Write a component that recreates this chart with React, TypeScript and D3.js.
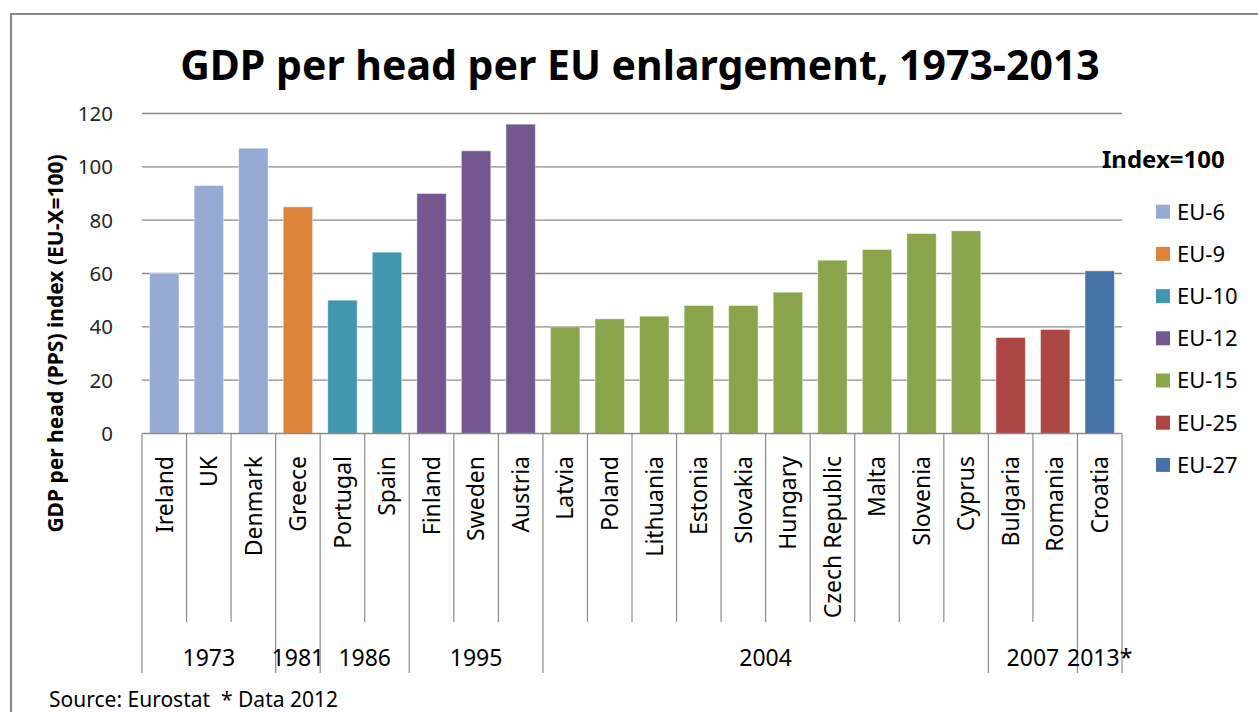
import React from "react";
import * as d3 from "d3";

const countries = ["Ireland","UK","Denmark","Greece","Portugal","Spain","Finland","Sweden","Austria","Latvia","Poland","Lithuania","Estonia","Slovakia","Hungary","Czech Republic","Malta","Slovenia","Cyprus","Bulgaria","Romania","Croatia"];
const values = [60,93,107,85,50,68,90,106,116,40,43,44,48,48,53,65,69,75,76,36,39,61];
const seriesOf = ["EU-6","EU-6","EU-6","EU-9","EU-10","EU-10","EU-12","EU-12","EU-12","EU-15","EU-15","EU-15","EU-15","EU-15","EU-15","EU-15","EU-15","EU-15","EU-15","EU-25","EU-25","EU-27"];
const seriesNames = ["EU-6","EU-9","EU-10","EU-12","EU-15","EU-25","EU-27"];
const seriesColors = ["#95abd3","#dc843a","#4197ad","#72588e","#8aa54c","#ac4744","#4572a7"];
const groupYears = ["1973","1981","1986","1995","2004","2007","2013*"];
const groupSizes = [3,1,2,3,10,2,1];
const yTicks = [0,20,40,60,80,100,120];

const W = 1258, H = 712;
const X0 = 142, X1 = 1122, Y0 = 433.5, Y1 = 113.5;
const FONT = "'Noto Sans', sans-serif";

export default function App() {
  const x = d3.scaleBand<string>().domain(countries).range([X0, X1]).padding(0);
  const y = d3.scaleLinear().domain([0, 120]).range([Y0, Y1]);
  const color = d3.scaleOrdinal<string, string>().domain(seriesNames).range(seriesColors);
  const bw = x.bandwidth();
  const barW = bw * 0.66;

  const bounds: number[] = [0];
  groupSizes.forEach((s) => bounds.push(bounds[bounds.length - 1] + s));
  const boundX = (i: number) => X0 + bounds[i] * bw;

  return (
    <svg width={W} height={H} style={{ position: "absolute", left: 0, top: 0, background: "#fff" }} fontFamily={FONT}>
      <rect x={0} y={0} width={W} height={H} fill="#fff" />
      <path d={`M11,${H + 5} L11,14 L${W + 5},14`} fill="none" stroke="#878787" strokeWidth={2.2} />
      <text x={640} y={80} textAnchor="middle" fontWeight="bold" fontSize={41} fill="#000">
        GDP per head per EU enlargement, 1973-2013
      </text>
      {yTicks.filter((t) => t > 0).map((t) => (
        <line key={t} x1={X0} x2={X1} y1={y(t)} y2={y(t)} stroke="#8a8a8a" strokeWidth={1.3} />
      ))}
      {yTicks.map((t) => (
        <text key={t} x={113} y={y(t)} dy="0.36em" textAnchor="end" fontSize={20.5} fill="#262626">
          {t}
        </text>
      ))}
      <text transform={`translate(55,343.5) rotate(-90)`} textAnchor="middle" dy="0.36em" fontWeight="bold" fontSize={21} fill="#000">
        GDP per head (PPS) index (EU-X=100)
      </text>
      {countries.map((c, i) => (
        <rect
          key={c}
          x={(x(c) as number) + (bw - barW) / 2}
          y={y(values[i])}
          width={barW}
          height={Y0 - y(values[i])}
          fill={color(seriesOf[i])}
          stroke="#ffffff"
          strokeOpacity={0.45}
          strokeWidth={1}
        />
      ))}
      <line x1={X0} x2={X1} y1={Y0} y2={Y0} stroke="#8a8a8a" strokeWidth={1.3} />
      {d3.range(countries.length + 1).map((i) => {
        const isBound = bounds.includes(i);
        return (
          <line key={i} x1={X0 + i * bw} x2={X0 + i * bw} y1={Y0} y2={isBound ? 673 : 622} stroke="#8a8a8a" strokeWidth={1.2} />
        );
      })}
      {countries.map((c) => (
        <text
          key={c}
          transform={`translate(${(x(c) as number) + bw / 2},456) rotate(-90)`}
          textAnchor="end"
          dy="0.36em"
          fontSize={23}
          fill="#000"
        >
          {c}
        </text>
      ))}
      {groupYears.map((g, i) => (
        <text key={g} x={(boundX(i) + boundX(i + 1)) / 2} y={666} textAnchor="middle" fontSize={23} fill="#000">
          {g}
        </text>
      ))}
      <text x={1102} y={168} fontWeight="bold" fontSize={24} fill="#000">Index=100</text>
      {seriesNames.map((s, i) => (
        <g key={s} transform={`translate(1156,${211.7 + i * 42.2})`}>
          <rect x={0} y={-7} width={14} height={14} fill={color(s)} />
          <text x={21} y={0} dy="0.36em" fontSize={22} fill="#000">{s}</text>
        </g>
      ))}
      <text x={49} y={707} fontSize={21} fill="#000">{"Source: Eurostat\u00a0\u00a0* Data 2012"}</text>
    </svg>
  );
}
